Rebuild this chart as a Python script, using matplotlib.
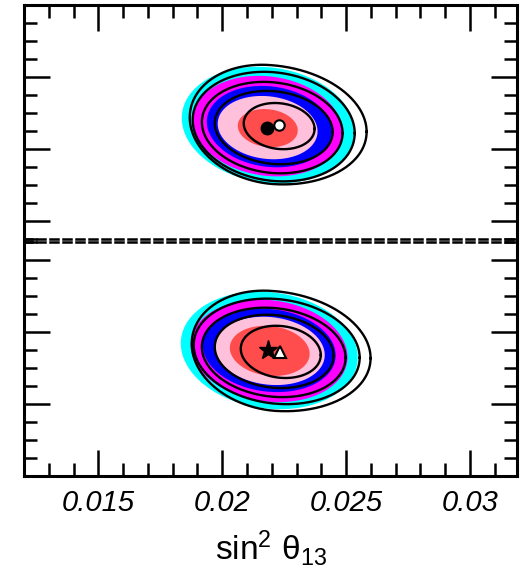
import numpy as np
import matplotlib
matplotlib.use('Agg')
import matplotlib.pyplot as plt
from matplotlib.ticker import MultipleLocator, FixedLocator

plt.rcParams['font.family'] = ['Liberation Sans', 'DejaVu Sans']
plt.rcParams['mathtext.fontset'] = 'custom'
plt.rcParams['mathtext.rm'] = 'Liberation Sans'
plt.rcParams['mathtext.it'] = 'Liberation Sans:italic'

# axis ticks
xticks = [0.015, 0.02, 0.025, 0.03]
xtick_labels = ['0.015', '0.02', '0.025', '0.03']

# filled regions, outermost first
fill_colors = ['#00ffff', '#ff00ff', '#0000ff', '#ffc0dc', '#ff4c4c']

# upper panel: filled contours (extents)
top_fill_xmin = [0.01837, 0.01881, 0.01938, 0.01982, 0.02063]
top_fill_xmax = [0.02535, 0.02486, 0.02442, 0.02385, 0.02305]
top_fill_ymin = [1.517, 1.615, 1.741, 1.853, 2.021]
top_fill_ymax = [3.140, 3.014, 2.874, 2.734, 2.552]

# upper panel: black contour lines
top_line_xmin = [0.01869, 0.01881, 0.01918, 0.01970, 0.02087]
top_line_xmax = [0.02583, 0.02535, 0.02486, 0.02446, 0.02373]
top_line_xc = [0.02200, 0.02208, 0.02202, 0.02208, 0.02230]
top_line_ymin = [1.503, 1.545, 1.657, 1.783, 1.993]
top_line_ymax = [3.168, 3.070, 2.930, 2.804, 2.636]

# lower panel: filled contours
bot_fill_xmin = [0.01833, 0.01873, 0.01922, 0.01970, 0.02031]
bot_fill_xmax = [0.02547, 0.02506, 0.02458, 0.02414, 0.02353]
bot_fill_ymin = [0.930, 1.028, 1.168, 1.266, 1.392]
bot_fill_ymax = [2.566, 2.455, 2.329, 2.217, 2.091]

# lower panel: black contour lines
bot_line_xmin = [0.01877, 0.01885, 0.01918, 0.01970, 0.02075]
bot_line_xmax = [0.02599, 0.02555, 0.02498, 0.02450, 0.02398]
bot_line_xc = [0.02208, 0.02220, 0.02208, 0.02210, 0.02236]
bot_line_ymin = [0.902, 1.000, 1.098, 1.224, 1.364]
bot_line_ymax = [2.580, 2.469, 2.343, 2.245, 2.091]

# best fit points
top_bf_fill = (0.02180, 2.287)
top_bf_line = (0.02228, 2.329)
bot_bf_fill = (0.02184, 1.755)
bot_bf_line = (0.02232, 1.727)

TILT = 0.12


def contour_xy(xmin, xmax, ymin, ymax, xc=None, n=300):
    t = np.linspace(0, 2 * np.pi, n)
    if xc is None:
        xc = (xmin + xmax) / 2
    yc = (ymin + ymax) / 2
    h = (ymax - ymin) / 2
    k = TILT * h
    b = np.sqrt(h ** 2 - k ** 2)
    c = np.cos(t)
    x = xc + np.where(c > 0, xmax - xc, xc - xmin) * c
    y = yc + b * np.sin(t) - k * c
    return x, y


fig = plt.figure(figsize=(5.24, 5.72), dpi=100)
ax1 = fig.add_axes([0.0458, 0.58304, 0.9408, 0.40822])
ax2 = fig.add_axes([0.0458, 0.16783, 0.9408, 0.40822])


def draw_panel(ax, fxmin, fxmax, fymin, fymax, lxmin, lxmax, lxc, lymin, lymax):
    for i in range(len(fill_colors)):
        x, y = contour_xy(fxmin[i], fxmax[i], fymin[i], fymax[i])
        ax.fill(x, y, color=fill_colors[i], lw=0, zorder=1)
    for i in range(len(lxmin)):
        x, y = contour_xy(lxmin[i], lxmax[i], lymin[i], lymax[i], lxc[i])
        ax.plot(x, y, color='black', lw=1.7, zorder=2)


draw_panel(ax1, top_fill_xmin, top_fill_xmax, top_fill_ymin, top_fill_ymax,
           top_line_xmin, top_line_xmax, top_line_xc, top_line_ymin, top_line_ymax)
draw_panel(ax2, bot_fill_xmin, bot_fill_xmax, bot_fill_ymin, bot_fill_ymax,
           bot_line_xmin, bot_line_xmax, bot_line_xc, bot_line_ymin, bot_line_ymax)

ax1.plot(*top_bf_fill, 'o', color='black', ms=9, zorder=3)
ax1.plot(*top_bf_line, 'o', mfc='white', mec='black', mew=1.5, ms=7.5, zorder=3)
ax2.plot(*bot_bf_fill, '*', color='black', ms=14, zorder=3)
ax2.plot(*bot_bf_line, '^', mfc='white', mec='black', mew=1.5, ms=8.5, zorder=3)

ax1.set_ylim(0.75, 4.0)
ax2.set_ylim(0.0, 3.25)

for ax in (ax1, ax2):
    ax.set_xlim(0.012, 0.0319)
    ax.xaxis.set_major_locator(FixedLocator(xticks))
    ax.xaxis.set_minor_locator(MultipleLocator(0.001))
    ax.yaxis.set_major_locator(MultipleLocator(1))
    ax.yaxis.set_minor_locator(MultipleLocator(0.25))
    ax.tick_params(which='both', direction='in', width=1.8, left=True, right=True,
                   labelleft=False)
    ax.tick_params(which='major', length=18.5)
    ax.tick_params(which='minor', length=9.5)
    for s in ax.spines.values():
        s.set_linewidth(2.2)

ax1.tick_params(which='both', top=True, bottom=False, labelbottom=False)
ax2.tick_params(which='both', top=False, bottom=True)
ax2.set_xticks(xticks, labels=xtick_labels, fontsize=21, fontstyle='italic')
ax2.tick_params(axis='x', which='major', pad=9)
ax2.set_xlabel(r'$\mathregular{sin^2\ \theta_{13}}$', fontsize=24, labelpad=8)

for s in (ax1.spines['bottom'], ax2.spines['top']):
    s.set_linewidth(1.8)
    s.set_linestyle((0, (3.2, 2.0)))

fig.savefig('out.png', dpi=100)
